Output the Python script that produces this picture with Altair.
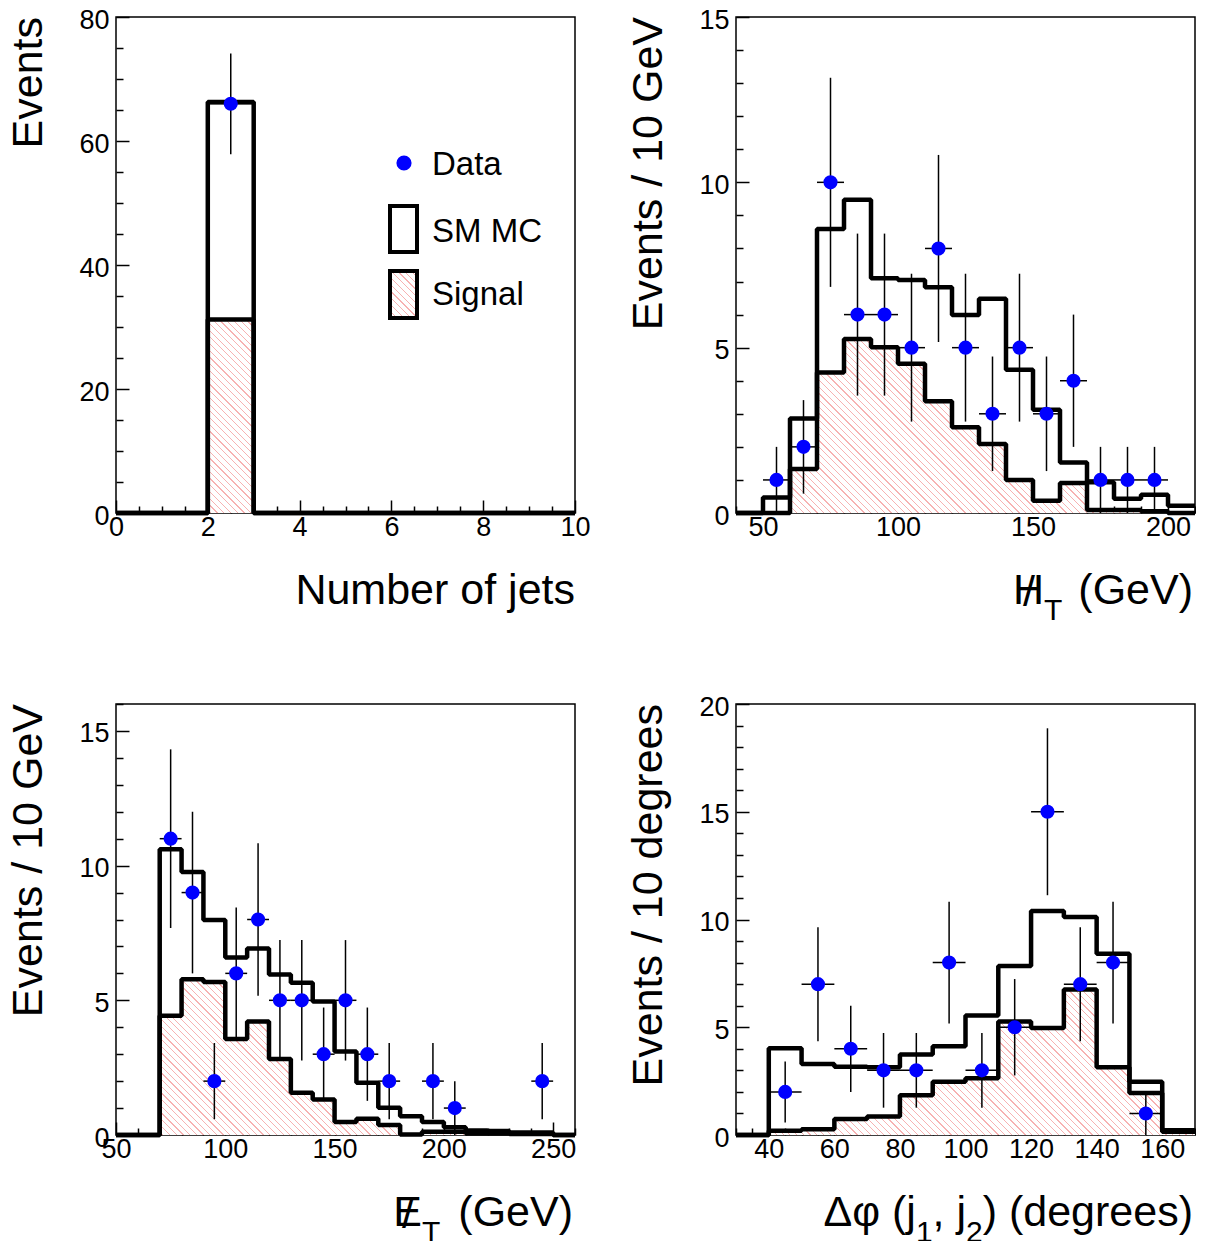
import altair as alt
import numpy as np
import pandas as pd

FONT = "Liberation Sans"

# ---------------- data ----------------
# Number of jets
nj_edges = [0, 1, 2, 3, 4, 5, 6, 7, 8, 9, 10]
nj_mc = [0, 0, 66.3, 0, 0, 0, 0, 0, 0, 0]
nj_sig = [0, 0, 31.2, 0, 0, 0, 0, 0, 0, 0]
nj_data_x = [2.5]
nj_data_n = [66]

# Missing HT
ht_edges = [40, 50, 60, 70, 80, 90, 100, 110, 120, 130, 140, 150, 160, 170, 180, 190, 200, 210]
ht_mc = [0, 0.47, 2.86, 8.59, 9.47, 7.10, 7.05, 6.83, 5.99, 6.48, 4.33, 3.12, 1.53, 0.93, 0.43, 0.55, 0.22]
ht_sig = [0, 0, 1.33, 4.25, 5.26, 5.01, 4.51, 3.38, 2.59, 2.09, 1.00, 0.37, 0.91, 0.09, 0.09, 0.05, 0]
ht_data_x = [55, 65, 75, 85, 95, 105, 115, 125, 135, 145, 155, 165, 175, 185, 195]
ht_data_n = [1, 2, 10, 6, 6, 5, 8, 5, 3, 5, 3, 4, 1, 1, 1]

# Missing ET
met_edges = [50, 60, 70, 80, 90, 100, 110, 120, 130, 140, 150, 160, 170, 180, 190, 200, 210, 220, 230, 240, 250, 260]
met_mc = [0, 0, 10.61, 9.76, 7.98, 6.59, 6.92, 5.96, 5.65, 4.96, 3.10, 1.94, 1.01, 0.70, 0.48, 0.29, 0.17, 0.15, 0.09, 0.09, 0]
met_sig = [0, 0, 4.43, 5.78, 5.68, 3.56, 4.21, 2.82, 1.57, 1.32, 0.48, 0.60, 0.37, 0.02, 0.12, 0.12, 0.06, 0.06, 0.04, 0.04, 0]
met_data_x = [75, 85, 95, 105, 115, 125, 135, 145, 155, 165, 175, 195, 205, 245]
met_data_n = [11, 9, 2, 6, 8, 5, 5, 3, 5, 3, 2, 2, 1, 2]

# Delta phi (j1, j2)
dp_edges = [30, 40, 50, 60, 70, 80, 90, 100, 110, 120, 130, 140, 150, 160, 170]
dp_mc = [0, 4.02, 3.30, 3.17, 3.14, 3.73, 4.12, 5.54, 7.84, 10.40, 10.12, 8.41, 2.47, 0.22]
dp_sig = [0, 0.20, 0.27, 0.74, 0.86, 1.85, 2.47, 2.63, 5.27, 4.97, 6.75, 3.14, 1.95, 0.15]
dp_data_x = [45, 55, 65, 75, 85, 95, 105, 115, 125, 135, 145, 155]
dp_data_n = [2, 7, 4, 3, 3, 8, 3, 5, 15, 7, 8, 1]

# axis ticks
nj_xmaj = [0, 2, 4, 6, 8, 10]
nj_xmin = [0.5, 1, 1.5, 2.5, 3, 3.5, 4.5, 5, 5.5, 6.5, 7, 7.5, 8.5, 9, 9.5]
nj_ymaj = [0, 20, 40, 60, 80]
nj_ymin = [5, 10, 15, 25, 30, 35, 45, 50, 55, 65, 70, 75]
ht_xmaj = [50, 100, 150, 200]
ht_xmin = [40, 60, 70, 80, 90, 110, 120, 130, 140, 160, 170, 180, 190, 210]
ht_ymaj = [0, 5, 10, 15]
ht_ymin = [1, 2, 3, 4, 6, 7, 8, 9, 11, 12, 13, 14]
met_xmaj = [50, 100, 150, 200, 250]
met_xmin = [60, 70, 80, 90, 110, 120, 130, 140, 160, 170, 180, 190, 210, 220, 230, 240, 260]
met_ymaj = [0, 5, 10, 15]
met_ymin = [1, 2, 3, 4, 6, 7, 8, 9, 11, 12, 13, 14, 16]
dp_xmaj = [40, 60, 80, 100, 120, 140, 160]
dp_xmin = [30, 35, 45, 50, 55, 65, 70, 75, 85, 90, 95, 105, 110, 115, 125, 130, 135, 145, 150, 155, 165, 170]
dp_ymaj = [0, 5, 10, 15, 20]
dp_ymin = [1, 2, 3, 4, 6, 7, 8, 9, 11, 12, 13, 14, 16, 17, 18, 19]

legend_labels = ["Data", "SM MC", "Signal"]

# ---------------- styling ----------------
W = 459
H_TOP = 496
H_BOT = 431
HATCH = "#f7b2b2"
LINE_W = 4.5
TITLE_SIZE = 43
SUB_SIZE = 30
XT = 91      # x-title baseline below plot bottom
XS = 107     # subscript baseline below plot bottom

# Arial/Liberation advance widths (per 1000 em) for composing sub-scripted titles
ADV = {" ": 278, "(": 333, ")": 333, ",": 278, "j": 222, "d": 556, "e": 556, "g": 556,
       "r": 333, "s": 500, "G": 778, "V": 667, "1": 556, "2": 556, "T": 611}


def tw(s, size):
    return sum(ADV.get(c, 556) for c in s) * size / 1000.0


def hatch(w, h, period=6.7, frac=0.18, color=HATCH):
    r = w / h
    s = (r + 1) / (r * r + 1)
    n = max(1, int(round((w + h) / period)))
    stops = []
    for k in range(n):
        a = k / n
        b = (k + frac) / n
        c = (k + 1) / n
        stops += [alt.GradientStop(offset=a, color=color), alt.GradientStop(offset=b, color=color),
                  alt.GradientStop(offset=b, color="white"), alt.GradientStop(offset=c, color="white")]
    return alt.LinearGradient(gradient="linear", stops=stops, x1=0, y1=1, x2=r * s, y2=1 - s)


ONE = pd.DataFrame({"k": [0]})


def txt(text, x, y, size=TITLE_SIZE, align="left", angle=0, baseline="alphabetic"):
    return alt.Chart(ONE).mark_text(text=text, font=FONT, fontSize=size, align=align, angle=angle,
                                    baseline=baseline, color="black").encode(
        x=alt.value(x), y=alt.value(y))


def panel(edges, mc, sig, dx, dn, xdom, ydom, xmaj, xmin, ymaj, ymin, height, extra):
    hdf = pd.DataFrame({"x": edges, "mc": list(mc) + [mc[-1]], "sig": list(sig) + [sig[-1]]})
    bw = edges[1] - edges[0]
    n = np.array(dn, float)
    err = np.sqrt(n)
    ddf = pd.DataFrame({"c": dx, "n": n, "lo": np.maximum(n - err, 0), "hi": n + err,
                        "xl": np.array(dx, float) - bw / 2, "xr": np.array(dx, float) + bw / 2})
    xs = alt.Scale(domain=xdom, nice=False, zero=False)
    ys = alt.Scale(domain=ydom, nice=False, zero=False)
    ax_maj_x = alt.Axis(values=xmaj, orient="bottom", offset=-13, tickSize=13, labelPadding=1,
                        title=None, format="d")
    ax_min_x = alt.Axis(values=xmin, orient="bottom", offset=-7, tickSize=7, labels=False, title=None)
    ax_maj_y = alt.Axis(values=ymaj, orient="left", offset=-13, tickSize=13, labelPadding=7,
                        labelOffset=3, title=None, format="d")
    ax_min_y = alt.Axis(values=ymin, orient="left", offset=-7, tickSize=7, labels=False, title=None)
    hs = max(sig) / ydom[1] * height
    base = alt.Chart(hdf)
    area = base.mark_area(interpolate="step-after", color=hatch(W, hs)).encode(
        x=alt.X("x:Q", scale=xs, axis=ax_maj_x), y=alt.Y("sig:Q", scale=ys, axis=ax_maj_y))
    mcl = base.mark_line(interpolate="step-after", color="black", strokeWidth=LINE_W,
                         strokeJoin="bevel").encode(
        x=alt.X("x:Q", scale=xs, axis=ax_min_x), y=alt.Y("mc:Q", scale=ys, axis=ax_min_y))
    sgl = base.mark_line(interpolate="step-after", color="black", strokeWidth=LINE_W,
                         strokeJoin="bevel").encode(
        x=alt.X("x:Q", scale=xs, axis=None), y=alt.Y("sig:Q", scale=ys, axis=None))
    dbase = alt.Chart(ddf)
    ev = dbase.mark_rule(color="black", strokeWidth=1.5).encode(
        x=alt.X("c:Q", scale=xs, axis=None), y=alt.Y("lo:Q", scale=ys, axis=None), y2="hi:Q")
    eh = dbase.mark_rule(color="black", strokeWidth=1.5).encode(
        x=alt.X("xl:Q", scale=xs, axis=None), x2="xr:Q", y=alt.Y("n:Q", scale=ys, axis=None))
    pts = dbase.mark_circle(color="#0000ff", opacity=1, size=200).encode(
        x=alt.X("c:Q", scale=xs, axis=None), y=alt.Y("n:Q", scale=ys, axis=None))
    layers = [area, mcl, sgl, ev, eh, pts] + extra
    return alt.layer(*layers).resolve_axis(x="independent", y="independent").properties(
        width=W, height=height)


# ---------------- titles ----------------
def ytitle(text):
    return txt(text, -74, 0, align="right", angle=270)


tl_extra = [
    ytitle("Events"),
    txt("Number of jets", W, H_TOP + XT, align="right"),
    # legend
    alt.Chart(ONE).mark_circle(color="#0000ff", opacity=1, size=230).encode(
        x=alt.value(288), y=alt.value(146)),
    alt.Chart(ONE).mark_rect(fill="white", stroke="black", strokeWidth=4).encode(
        x=alt.value(274), x2=alt.value(301), y=alt.value(189), y2=alt.value(235)),
    alt.Chart(ONE).mark_rect(fill=hatch(27, 47), stroke="black", strokeWidth=4).encode(
        x=alt.value(274), x2=alt.value(301), y=alt.value(254), y2=alt.value(301)),
    txt(legend_labels[0], 316, 158, size=33),
    txt(legend_labels[1], 316, 225, size=33),
    txt(legend_labels[2], 316, 288, size=33),
]

tr_x = W - 2
tr_sub = tr_x - tw("(GeV)", TITLE_SIZE) - 16
tr_h = tr_sub - tw("T", SUB_SIZE)
tr_extra = [
    ytitle("Events / 10 GeV"),
    txt("(GeV)", tr_x, H_TOP + XT, align="right"),
    txt("T", tr_sub, H_TOP + XS, size=SUB_SIZE, align="right"),
    txt("H", tr_h, H_TOP + XT, align="right"),
    txt("/", tr_h - 15, H_TOP + XT + 2, align="center"),
]

bl_x = W - 2
bl_sub = bl_x - tw("(GeV)", TITLE_SIZE) - 18
bl_e = bl_sub - tw("T", SUB_SIZE)
bl_extra = [
    ytitle("Events / 10 GeV"),
    txt("(GeV)", bl_x, H_BOT + XT, align="right"),
    txt("T", bl_sub, H_BOT + XS, size=SUB_SIZE, align="right"),
    txt("E", bl_e, H_BOT + XT, align="right"),
    txt("/", bl_e - 14, H_BOT + XT + 2, align="center"),
]

br_x = W - 2
p1 = ") (degrees)"
p2x = br_x - tw(p1, TITLE_SIZE)
p3x = p2x - tw("2", SUB_SIZE)
p4x = p3x - tw(", j", TITLE_SIZE)
p5x = p4x - tw("1", SUB_SIZE)
br_extra = [
    ytitle("Events / 10 degrees"),
    txt(p1, br_x, H_BOT + XT, align="right"),
    txt("2", p2x, H_BOT + XS, size=SUB_SIZE, align="right"),
    txt(", j", p3x, H_BOT + XT, align="right"),
    txt("1", p4x, H_BOT + XS, size=SUB_SIZE, align="right"),
    txt("Δφ (j", p5x, H_BOT + XT, align="right"),
]

tl = panel(nj_edges, nj_mc, nj_sig, nj_data_x, nj_data_n, [0, 10], [0, 80],
           nj_xmaj, nj_xmin, nj_ymaj, nj_ymin, H_TOP, tl_extra)
tr = panel(ht_edges, ht_mc, ht_sig, ht_data_x, ht_data_n, [40, 210], [0, 15],
           ht_xmaj, ht_xmin, ht_ymaj, ht_ymin, H_TOP, tr_extra)
bl = panel(met_edges, met_mc, met_sig, met_data_x, met_data_n, [50, 260], [0, 16],
           met_xmaj, met_xmin, met_ymaj, met_ymin, H_BOT, bl_extra)
br = panel(dp_edges, dp_mc, dp_sig, dp_data_x, dp_data_n, [30, 170], [0, 20],
           dp_xmaj, dp_xmin, dp_ymaj, dp_ymin, H_BOT, br_extra)

chart = alt.concat(
    tl, tr, bl, br, columns=2,
    spacing={"row": 191, "column": 161}, bounds="flush", align="each",
).properties(
    padding={"left": -1, "top": -3, "right": -2, "bottom": -8},
    background="white",
).configure_view(
    stroke="black", strokeWidth=1.5
).configure_axis(
    labelFont=FONT, labelFontSize=27, labelColor="black", tickColor="black", tickWidth=1.5,
    domain=False, grid=False, labelFlush=False, labelOverlap=False
)

chart.save("out.html", embed_options={"renderer": "svg", "actions": False})
